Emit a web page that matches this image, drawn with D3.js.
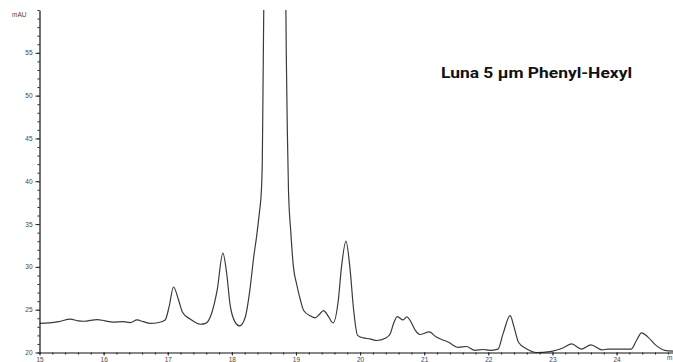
<!DOCTYPE html>
<html>
<head>
<meta charset="utf-8">
<script src="https://cdn.jsdelivr.net/npm/d3@7"></script>
<style>
body{margin:0;background:#fff;}
svg{display:block;}
</style>
</head>
<body>
<svg id="chrom" width="673" height="362"></svg>
<script>
// retention time (min) and absorbance (mAU)
var times = [15.00,15.15,15.30,15.48,15.60,15.69,15.90,16.02,16.15,16.30,16.42,16.52,16.62,16.73,16.86,16.96,
	17.02,17.09,17.17,17.23,17.35,17.51,17.59,17.69,17.77,17.86,17.92,17.97,18.05,18.12,18.21,18.28,18.34,
	18.39,18.43,18.46,18.475,18.49,18.50,18.52,18.68,18.83,18.84,18.85,18.865,18.883,18.92,18.96,19.01,19.07,
	19.12,19.22,19.30,19.36,19.43,19.51,19.58,19.66,19.71,19.78,19.84,19.90,19.96,20.05,20.15,20.26,20.40,
	20.47,20.52,20.58,20.67,20.73,20.78,20.86,20.93,21.08,21.19,21.38,21.53,21.66,21.79,21.92,22.02,22.15,
	22.23,22.34,22.40,22.47,22.60,22.75,22.96,23.17,23.30,23.45,23.60,23.77,23.87,24.23,24.31,24.39,24.49,
	24.62,24.75,24.88]
var mau = [23.4,23.45,23.6,23.9,23.7,23.65,23.85,23.7,23.55,23.6,23.5,23.8,23.6,23.4,23.5,23.8,
	25.3,27.65,26.1,24.7,23.9,23.3,23.4,24.7,27.25,31.6,29.2,25.7,23.55,23.1,24.15,27.25,31.1,
	33.8,36.4,38.8,42.5,54.2,62,75,110,75,62,54.2,46,39,34.0,30.0,28.0,26.1,
	24.9,24.3,24.05,24.4,24.9,24.15,23.45,26.1,30.0,33.0,30.0,24.9,22.0,21.7,21.6,21.4,21.7,
	22.2,23.35,24.2,23.8,24.15,23.75,22.6,22.1,22.4,21.8,21.2,20.6,20.7,20.25,20.35,20.25,20.4,
	22.2,24.3,23.0,21.2,20.4,20.0,20.1,20.55,21.0,20.4,20.9,20.3,20.4,20.4,21.4,22.3,21.8,
	20.8,20.25,20.15]
var y_labels = [20,25,30,35,40,45,50,55]
var x_labels = [15,16,17,18,19,20,21,22,23,24]
var title = "Luna 5 µm Phenyl-Hexyl"

function chrom(){
	var svg = d3.select('svg#chrom')
	var left = 39.5, top = 10, bottom = 352.5, right = 673
	var small_font = 'Liberation Sans, Arial, sans-serif'

	var points = times.map(function(t, i){return {t: t, v: mau[i]}})

	var scale_x = d3.scaleLinear()
	.domain([15, 24.88])
	.range([left, right])
	var scale_y = d3.scaleLinear()
	.domain([20, 60])
	.range([bottom, top])

	svg.append('clipPath')
	.attr('id', 'plotclip')
	.append('rect')
	.attr('x', left)
	.attr('y', top)
	.attr('width', right - left)
	.attr('height', 362 - top)

	var line = d3.line()
	.x(function(e){return scale_x(e.t)})
	.y(function(e){return scale_y(e.v)})
	.curve(d3.curveMonotoneX)

	svg.append('path')
	.attr('d', line(points))
	.attr('clip-path', 'url(#plotclip)')
	.style('stroke', '#3a3a3a')
	.style('stroke-width', '1.2')
	.style('fill', 'none')

	// minor ticks
	svg.append('g')
	.attr('transform', 'translate(' + left + ',0)')
	.call(d3.axisLeft(scale_y).tickValues(d3.range(20, 61, 1)).tickSize(2).tickFormat(''))
	.call(function(g){g.select('.domain').remove()})
	svg.append('g')
	.attr('transform', 'translate(0,' + bottom + ')')
	.call(d3.axisBottom(scale_x).tickValues(d3.range(15, 24.9, 0.2)).tickSize(2).tickFormat(''))
	.call(function(g){g.select('.domain').remove()})

	svg.append('g')
	.attr('transform', 'translate(' + left + ',0)')
	.call(d3.axisLeft(scale_y).tickValues(y_labels).tickSize(4).tickPadding(3).tickSizeOuter(0))
	svg.append('g')
	.attr('transform', 'translate(0,' + bottom + ')')
	.call(d3.axisBottom(scale_x).tickValues(x_labels).tickSize(3).tickPadding(2).tickSizeOuter(0))

	svg.selectAll('.tick line').style('stroke', '#222')
	svg.selectAll('.domain').style('stroke', '#111').style('stroke-width', '1.2')
	svg.selectAll('.tick text')
	.style('font-family', small_font)
	.style('font-size', '6.5px')
	.style('fill', '#444')

	svg.append('text')
	.attr('x', 12)
	.attr('y', 17)
	.text('mAU')
	.style('font-family', small_font)
	.style('font-size', '6.5px')
	.style('fill', '#444')

	svg.append('text')
	.attr('x', 667)
	.attr('y', 360)
	.text('m')
	.style('font-family', small_font)
	.style('font-size', '6.5px')
	.style('fill', '#444')

	svg.append('text')
	.attr('x', 441)
	.attr('y', 78)
	.attr('textLength', 191)
	.attr('lengthAdjust', 'spacingAndGlyphs')
	.text(title)
	.style('font-family', 'Roboto, Arial, sans-serif')
	.style('font-weight', 'bold')
	.style('font-size', '15px')
	.style('fill', '#111')
}
chrom()
</script>
</body>
</html>
